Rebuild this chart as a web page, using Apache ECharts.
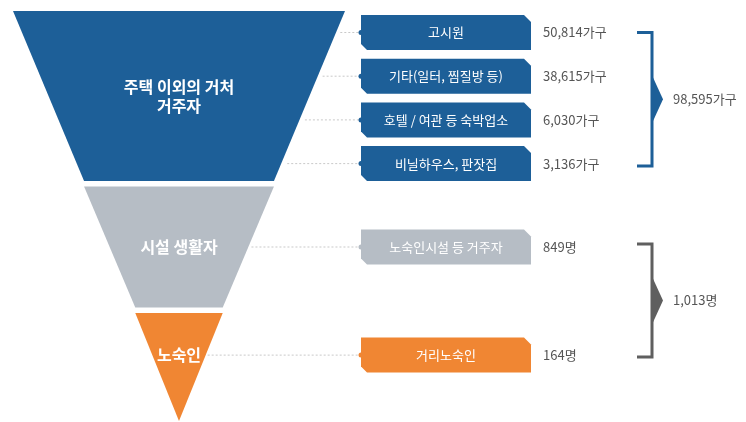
<!DOCTYPE html>
<html style="height: 100%">
<head>
    <meta charset="utf-8">
    <script src="https://cdn.jsdelivr.net/npm/echarts@6/dist/echarts.min.js"></script>
    <title>노숙인 등 현황</title>
</head>
<body style="height: 100%; margin: 0; background: #fff">
<div id="container" style="width: 746px; height: 422px"></div>
<script type="text/javascript">

    // stages of the funnel
    let stages = ['주택 이외의 거처\n거주자', '시설 생활자', '노숙인'];
    // breakdown items, and the stage each belongs to
    let items = ['고시원', '기타(일터, 찜질방 등)', '호텔 / 여관 등 숙박업소', '비닐하우스, 판잣집', '노숙인시설 등 거주자', '거리노숙인'];
    let itemStage = [0, 0, 0, 0, 1, 2];
    let itemCounts = [50814, 38615, 6030, 3136, 849, 164];
    let itemUnits = ['가구', '가구', '가구', '가구', '명', '명'];
    // bracketed totals
    let groupItems = [[0, 1, 2, 3], [4, 5]];
    let groupTotals = [98595, 1013];
    let groupUnits = ['가구', '명'];

    let stageColors = ['#1d5f98', '#b6bdc5', '#f08633'];
    let bracketColors = ['#1d5f98', '#5f5f5f'];
    let font = '"Noto Sans CJK KR", "Noto Sans", sans-serif';

    // funnel geometry (one triangle cut into pieces)
    let fLeft = 13, fTop = 11, fWidth = 332, gap = 5.5;
    let segH = [170, 121, 108];
    let fHeight = segH[0] + segH[1] + segH[2] + 2 * gap;
    let apexY = fTop + fHeight;
    let cx = fLeft + fWidth / 2;
    let segTop = [fTop, fTop + segH[0] + gap, fTop + segH[0] + segH[1] + 2 * gap];
    // funnel value = distance of the piece's top edge from the apex -> straight sides
    let funnelVals = segTop.map(t => apexY - t);
    function edgeX(y) { return cx + (fWidth / 2) * (apexY - y) / fHeight; }

    // rows for the boxes on the right
    let rowPitch = 43.7;
    function rowY(i) {
        let s = itemStage[i];
        if (s === 0) return 32.5 + i * rowPitch;
        if (s === 1) return segTop[1] + segH[1] / 2;
        return segTop[2] + segH[2] * 0.39;
    }
    let boxLeft = 361, boxW = 170, boxH = 35;
    let valueX = 543, bracketX = 652, totalX = 673;

    let fmt = v => v.toLocaleString('en-US');

    let chart = echarts.init(document.getElementById('container'));

    chart.setOption({
        animation: false,
        grid: {left: 0, right: 0, top: 0, bottom: 0},
        xAxis: {type: 'value', min: 0, max: 746, show: false},
        yAxis: {type: 'value', min: 0, max: 422, inverse: true, show: false},
        series: [
            {
                type: 'funnel',
                sort: 'none',
                left: fLeft, top: fTop, width: fWidth, height: fHeight,
                min: 0, max: fHeight,
                minSize: 0, maxSize: '100%',
                gap: gap,
                label: {
                    show: true,
                    position: 'inside',
                    color: '#fff',
                    fontFamily: font,
                    fontSize: 16,
                    fontWeight: 'bold',
                    lineHeight: 19
                },
                labelLine: {show: false},
                emphasis: {disabled: true},
                data: stages.map((s, i) => ({
                    name: s,
                    value: funnelVals[i],
                    itemStyle: {color: stageColors[i], borderWidth: 0, height: segH[i]},
                    // the tip piece carries its label higher than its centre
                    label: i === 2 ? {formatter: '{b}\n ', lineHeight: 24} : {}
                }))
            },
            {
                type: 'custom',
                coordinateSystem: 'cartesian2d',
                silent: true,
                data: items.map((n, i) => [i]),
                renderItem: function (params, api) {
                    let i = api.value(0);
                    let y = rowY(i);
                    let color = stageColors[itemStage[i]];
                    let x0 = boxLeft, y0 = y - boxH / 2;
                    let pts = [
                        [x0, y0], [x0 + boxW - 7, y0], [x0 + boxW, y0 + 7],
                        [x0 + boxW, y0 + boxH], [x0 + 6, y0 + boxH], [x0, y0 + boxH - 6]
                    ].map(p => api.coord(p));
                    let lineStart = api.coord([edgeX(y) + (itemStage[i] === 0 ? 4 : 2), y]);
                    let lineEnd = api.coord([boxLeft, y]);
                    let c = api.coord([boxLeft + boxW / 2, y]);
                    let v = api.coord([valueX, y]);
                    return {
                        type: 'group',
                        children: [
                            {
                                type: 'line',
                                shape: {x1: lineStart[0], y1: lineStart[1], x2: lineEnd[0], y2: lineEnd[1]},
                                style: {stroke: '#c9c9c9', lineWidth: 1, lineDash: [2, 2]}
                            },
                            {
                                type: 'circle',
                                shape: {cx: lineEnd[0], cy: lineEnd[1], r: 2.5},
                                style: {fill: color}
                            },
                            {
                                type: 'polygon',
                                shape: {points: pts},
                                style: {fill: color}
                            },
                            {
                                type: 'text',
                                x: c[0], y: c[1],
                                style: {
                                    text: items[i], fill: '#fff', font: '13px ' + font,
                                    align: 'center', verticalAlign: 'middle'
                                }
                            },
                            {
                                type: 'text',
                                x: v[0], y: v[1],
                                style: {
                                    text: fmt(itemCounts[i]) + itemUnits[i], fill: '#555',
                                    font: '13px ' + font, align: 'left', verticalAlign: 'middle'
                                }
                            }
                        ]
                    };
                }
            },
            {
                type: 'custom',
                coordinateSystem: 'cartesian2d',
                silent: true,
                data: groupTotals.map((t, g) => [g]),
                renderItem: function (params, api) {
                    let g = api.value(0);
                    let ids = groupItems[g];
                    let y1 = rowY(ids[0]) + (g === 0 ? 0 : -3);
                    let y2 = rowY(ids[ids.length - 1]) + (g === 0 ? 2.5 : 2);
                    let mid = (y1 + y2) / 2;
                    let color = bracketColors[g];
                    let pts = [[bracketX - 15, y1], [bracketX, y1], [bracketX, y2], [bracketX - 15, y2]].map(p => api.coord(p));
                    let arrow = [[bracketX, mid - 24], [bracketX + 11, mid], [bracketX, mid + 24]].map(p => api.coord(p));
                    let t = api.coord([totalX, mid]);
                    return {
                        type: 'group',
                        children: [
                            {
                                type: 'polyline',
                                shape: {points: pts},
                                style: {stroke: color, lineWidth: 3, fill: null}
                            },
                            {
                                type: 'polygon',
                                shape: {points: arrow},
                                style: {fill: color}
                            },
                            {
                                type: 'text',
                                x: t[0], y: t[1],
                                style: {
                                    text: fmt(groupTotals[g]) + groupUnits[g], fill: '#555',
                                    font: '13px ' + font, align: 'left', verticalAlign: 'middle'
                                }
                            }
                        ]
                    };
                }
            }
        ]
    }, true);

</script>
</body>
</html>
